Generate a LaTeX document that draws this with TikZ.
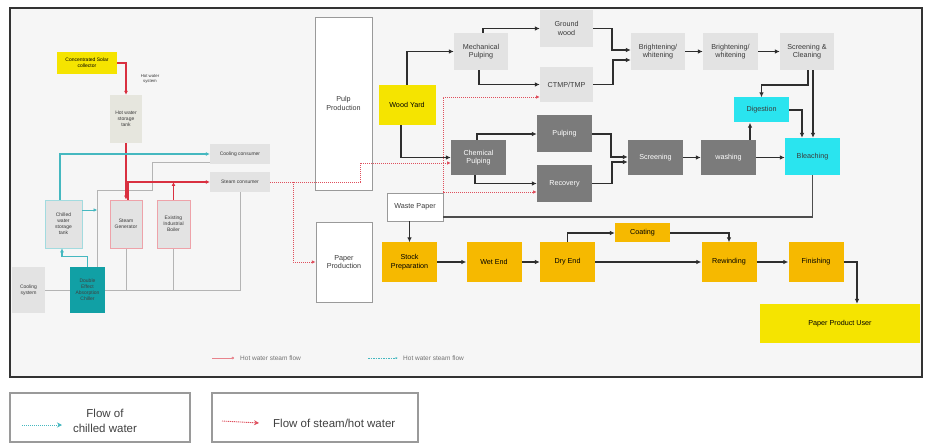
\documentclass[tikz,border=0pt]{standalone}
\usepackage{fontspec}
\setmainfont{Liberation Sans}
\usetikzlibrary{arrows.meta,calc}
\pgfdeclarelayer{bglayer}
\pgfdeclarelayer{linelayer}
\pgfsetlayers{bglayer,linelayer,main}
\definecolor{bgc}{HTML}{F6F6F6}
\definecolor{lgray}{HTML}{E3E3E3}
\definecolor{dgray}{HTML}{7B7B7B}
\definecolor{cyanb}{HTML}{2AE4EF}
\definecolor{orangeb}{HTML}{F6B900}
\definecolor{yellowb}{HTML}{F5E400}
\definecolor{tealb}{HTML}{11A0A5}
\definecolor{tankc}{HTML}{E6E6DE}
\definecolor{redl}{HTML}{D93040}
\definecolor{teall}{HTML}{45B8C0}
\definecolor{grayl}{HTML}{B4B4B4}
\definecolor{txtc}{HTML}{3A3A3A}
\definecolor{arrc}{HTML}{2E2E2E}
\definecolor{frame}{HTML}{333333}
\definecolor{bordc}{HTML}{9A9A9A}
\begin{document}
\begin{tikzpicture}[x=1pt,y=-1pt,
  box/.style={inner sep=0pt, align=center, font=\fontsize{7.2}{8.6}\selectfont, text=txtc},
  sbox/.style={inner sep=0pt, align=center, font=\fontsize{5}{6}\selectfont, text=txtc},
  lg/.style={box, fill=lgray},
  dg/.style={box, fill=dgray, text=white},
  cy/.style={box, fill=cyanb},
  ob/.style={box, fill=orangeb, text=black},
  yb/.style={box, fill=yellowb, text=black},
  wb/.style={box, fill=white, draw=bordc, line width=0.7pt},
  blk/.style={draw=arrc, line width=1.5pt, -{Latex[length=5pt,width=4.6pt]}},
  blkline/.style={draw=arrc!85, line width=1.5pt},
  redsolid/.style={draw=redl, line width=1.3pt, -{Latex[length=4pt,width=4pt]}},
  reddot/.style={draw=redl!85, line width=0.8pt, dash pattern=on 1.2pt off 0.8pt, -{Latex[length=3.8pt,width=3.6pt]}},
  tealsolid/.style={draw=teall, line width=1.3pt, -{Latex[length=4pt,width=4pt]}},
  tealdot/.style={draw=teall, line width=0.9pt, dash pattern=on 1.2pt off 0.8pt, -{Latex[length=3.8pt,width=3.8pt]}},
  grayline/.style={draw=grayl, line width=0.7pt},
  legtxt/.style={inner sep=0pt, font=\fontsize{6.5}{7.5}\selectfont, text=black!55},
  legbox/.style={draw=bordc, line width=1.4pt, fill=white, inner sep=0pt},
  bigtxt/.style={inner sep=0pt, align=center, font=\fontsize{11.5}{15}\selectfont, text=black!75}
]
\useasboundingbox (0,0) rectangle (928,446);
\begin{pgfonlayer}{bglayer}
\fill[white] (0,0) rectangle (928,446);
\draw[fill=bgc, draw=frame, line width=1.3pt] (10,8) rectangle (922,377);
\end{pgfonlayer}

% ---------- left energy system ----------
\node[sbox, fill=yellowb, text=black, minimum width=60, minimum height=22] (solar) at (87,63) {Concentrated Solar\\collector};
\node[sbox, font=\fontsize{4.3}{5}\selectfont] (hwsys) at (150,79) {Hot water\\system};
\node[sbox, fill=tankc, minimum width=32, minimum height=48] (hwtank) at (126,119) {Hot water\\storage\\tank};
\node[sbox, fill=lgray, minimum width=60, minimum height=20] (coolcons) at (240,154) {Cooling consumer};
\node[sbox, fill=lgray, minimum width=60, minimum height=20] (steamcons) at (240,182) {Steam consumer};
\node[sbox, fill=lgray, draw=teall!50, line width=0.6pt, minimum width=37, minimum height=48] (chtank) at (63.5,224) {Chilled\\water\\storage\\tank};
\node[sbox, fill=lgray, draw=redl!45, line width=0.7pt, minimum width=32, minimum height=48] (steamgen) at (126,224) {Steam\\Generator};
\node[sbox, fill=lgray, draw=redl!45, line width=0.7pt, minimum width=33, minimum height=48] (boiler) at (173.5,224) {Existing\\Industrial\\Boiler};
\node[sbox, fill=tealb, text=black!75, minimum width=35, minimum height=46] (chiller) at (87.5,290) {Double\\Effect\\Absorption\\Chiller};
\node[sbox, fill=lgray, minimum width=33, minimum height=46] (coolsys) at (28.5,290) {Cooling\\system};

% ---------- production ----------
\node[wb, minimum width=57, minimum height=173] (pulpprod) at (343.5,103.5) {Pulp\\Production};
\node[wb, minimum width=56, minimum height=80] (paperprod) at (344,262) {Paper\\Production};
\node[yb, minimum width=57, minimum height=40] (woodyard) at (407,105) {Wood Yard};
\node[lg, minimum width=54, minimum height=37] (mech) at (481,51.5) {Mechanical\\Pulping};
\node[lg, minimum width=53, minimum height=37] (ground) at (566.5,28.5) {Ground\\wood};
\node[lg, minimum width=53, minimum height=35] (ctmp) at (566.5,84.5) {CTMP/TMP};
\node[lg, minimum width=54, minimum height=37] (bright1) at (658,51.5) {Brightening/\\whitening};
\node[lg, minimum width=55, minimum height=37] (bright2) at (730.5,51.5) {Brightening/\\whitening};
\node[lg, minimum width=54, minimum height=37] (screenclean) at (807,51.5) {Screening \&\\Cleaning};
\node[cy, minimum width=55, minimum height=25] (digest) at (761.5,110) {Digestion};
\node[cy, minimum width=55, minimum height=37] (bleach) at (812.5,156.5) {Bleaching};
\node[dg, minimum width=55, minimum height=35] (chem) at (478.5,157.5) {Chemical\\Pulping};
\node[dg, minimum width=55, minimum height=37] (pulping) at (564.5,134) {Pulping};
\node[dg, minimum width=55, minimum height=37] (recovery) at (564.5,183.5) {Recovery};
\node[dg, minimum width=55, minimum height=35] (screening) at (655.5,157.5) {Screening};
\node[dg, minimum width=55, minimum height=35] (washing) at (728.5,157.5) {washing};
\node[wb, minimum width=56, minimum height=28] (waste) at (415,207) {Waste Paper};
\node[ob, minimum width=55, minimum height=39] (stock) at (409.5,262) {Stock\\Preparation};
\node[ob, minimum width=55, minimum height=39] (wet) at (494,262) {Wet End};
\node[ob, minimum width=55, minimum height=39] (dry) at (567.5,262) {Dry End};
\node[ob, minimum width=55, minimum height=19] (coating) at (642.5,233) {Coating};
\node[ob, minimum width=55, minimum height=39] (rewind) at (729,262) {Rewinding};
\node[ob, minimum width=55, minimum height=39] (finish) at (816,262) {Finishing};
\node[yb, minimum width=160, minimum height=39] (ppu) at (840,323.5) {Paper Product User};

% ---------- gray return lines (behind boxes) ----------
\begin{pgfonlayer}{linelayer}
\draw[grayline] ([yshift=-8pt]coolcons.west) -- ++(-57,0) -- ++(0,28) -| ([xshift=9.5pt]chiller.north);
\draw[grayline] (steamcons.south) |- (coolsys.east);
\draw[grayline] (boiler.south) -- (boiler.south |- coolsys.east);
\draw[grayline] (steamgen.south) -- (steamgen.south |- coolsys.east);
\end{pgfonlayer}

% ---------- energy connectors ----------
\draw[redsolid] (solar.east) -| (hwtank.north);
\draw[redsolid] (hwtank.south) -- (steamgen.north);
\draw[redsolid] ([xshift=2pt]steamgen.north) |- (steamcons.west);
\draw[redsolid] (boiler.north) -- (boiler.north |- steamcons.west);
\draw[tealsolid] ([xshift=-3.5pt]chtank.north) |- (coolcons.west);
\draw[tealdot] ([yshift=14pt]chtank.east) -- ++(15,0);
\draw[tealsolid] (chiller.north) -- ++(0,-10) -| ([xshift=-1.5pt]chtank.south);

% ---------- steam / hot water to production ----------
\coordinate (rj) at (443,163);
\draw[reddot] (steamcons.east) -- ++(90,0) |- ([yshift=-5.5pt]chem.west);
\draw[reddot] ([xshift=23pt]steamcons.east) |- (paperprod.west);
\draw[reddot] (rj) |- ([yshift=-12.5pt]ctmp.west);
\draw[reddot] (rj) |- ([yshift=-8.5pt]recovery.west);

% ---------- process connectors ----------
\draw[blk] (woodyard.north) |- (mech.west);
\draw[blk] ([xshift=-6pt]woodyard.south) |- (chem.west);
\draw[blk] ([xshift=2pt]mech.north) |- (ground.west);
\draw[blk] ([xshift=-2pt]mech.south) |- (ctmp.west);
\draw[blk] (ground.east) -- ++(19,0) |- ([yshift=1.5pt]bright1.west);
\draw[blk] (ctmp.east) -- ++(20,0) |- ([yshift=-8.5pt]bright1.west);
\draw[blk] (bright1.east) -- (bright2.west);
\draw[blk] (bright2.east) -- (screenclean.west);
\draw[blk] ([xshift=1pt]screenclean.south) -- ++(0,15) -| (digest.north);
\draw[blk] ([xshift=6pt]screenclean.south) -- ([xshift=0.5pt]bleach.north);
\draw[blk] (digest.east) -| ([xshift=-10.5pt]bleach.north);
\draw[blk] ([xshift=-1.5pt]chem.north) |- (pulping.west);
\draw[blk] ([xshift=-3.5pt]chem.south) |- (recovery.west);
\draw[blk] (pulping.east) -- ++(19,0) |- ([yshift=0.5pt]screening.west);
\draw[blk] (recovery.east) -- ++(20,0) |- ([yshift=-4.5pt]screening.west);
\draw[blk] (screening.east) -- (washing.west);
\draw[blk] (washing.east) -- (washing.east -| bleach.west);
\draw[blk] ([xshift=21.5pt]washing.north) -- ([xshift=-11.5pt]digest.south);
\draw[blkline] (bleach.south) |- ([yshift=-10pt]waste.east);
\draw[blk] (waste.south -| stock.north) -- (stock.north);
\draw[blk] (stock.east) -- (wet.west);
\draw[blk] (wet.east) -- (dry.west);
\draw[blk] (dry.north) |- (coating.west);
\draw[blk] (coating.east) -| (rewind.north);
\draw[blk] (dry.east) -- (rewind.west);
\draw[blk] (rewind.east) -- (finish.west);
\draw[blk] (finish.east) -| ([xshift=17pt]ppu.north);

% ---------- legend inside frame ----------
\coordinate (lr1) at (212,358);
\node[legtxt, anchor=west] (lrt) at (240,358) {Hot water steam flow};
\draw[draw=redl!60, line width=0.5pt, -{Circle[length=2.5pt]}] (lr1) -- ([xshift=-6pt]lrt.west);
\coordinate (lt1) at (368,358);
\node[legtxt, anchor=west] (ltt) at (403,358) {Hot water steam flow};
\draw[draw=teall, line width=0.5pt, dash pattern=on 1.5pt off 1pt, -{Latex[length=2.5pt]}] (lt1) -- ([xshift=-5pt]ltt.west);

% ---------- bottom legend ----------
\node[legbox, minimum width=180, minimum height=49] (lb1) at (100,417.5) {};
\node[legbox, minimum width=206, minimum height=49] (lb2) at (315,417.5) {};
\node[bigtxt] (lb1t) at (105,421) {Flow of\\chilled water};
\coordinate (lc1) at (22,425);
\coordinate (lc2) at (62,425);
\draw[tealdot, line width=1pt, -{Stealth[length=5pt,width=5pt]}] (lc1) -- (lc2);
\node[bigtxt, anchor=west] (lb2t) at (273,423) {Flow of steam/hot water};
\coordinate (lr2) at (222,421);
\draw[reddot, line width=0.9pt, -{Stealth[length=5pt,width=5pt]}] (lr2) -- ([xshift=-14pt]lb2t.west);
\end{tikzpicture}
\end{document}
